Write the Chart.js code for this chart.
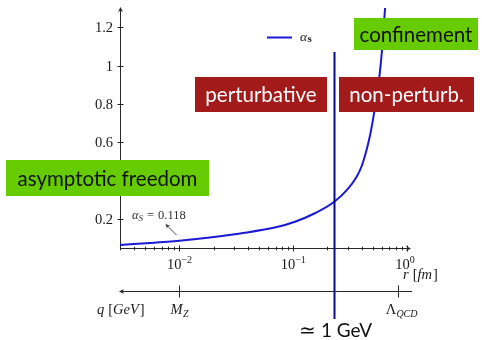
<!DOCTYPE html>
<html>
<head>
<meta charset="utf-8">
<script src="https://cdn.jsdelivr.net/npm/chart.js@4"></script>
<style>
  html, body { margin: 0; padding: 0; background: #fff; }
  canvas { display: block; }
</style>
</head>
<body>
<canvas id="c" width="482" height="340"></canvas>
<script>
// Running strong coupling versus distance r (fm)
const radiusFm = [0.003, 0.0055, 0.01, 0.0185, 0.0364, 0.0716, 0.1035, 0.155, 0.2296, 0.305, 0.361, 0.400, 0.441, 0.478, 0.516, 0.571, 0.603, 0.632, 0.643];
const alphaS   = [0.066, 0.076, 0.088, 0.105, 0.128, 0.159, 0.187, 0.231, 0.291, 0.361, 0.421, 0.477, 0.560, 0.649, 0.760, 0.939, 1.081, 1.246, 1.307];

// Axis ticks
const yTicks = [0.2, 0.4, 0.6, 0.8, 1, 1.2];
const yTickLabels = ['0.2', '0.4', '0.6', '0.8', '1', '1.2'];
const xDecades = [0.01, 0.1, 1];
const xDecadeExponents = ['\u22122', '\u22121', '0'];

// Reference scales
const oneGeVRadius = 0.229;
const mzRadius = 0.01;
const lambdaQcdRadius = 0.828;
const alphaSAtMz = '0.118';

const SERIF = '"Liberation Serif", "DejaVu Serif", serif';
const SANS = 'Lato, "Open Sans", sans-serif';
const AXIS = '#262626';
const RED = '#a31a1a';
const GREEN = '#66cc00';
const FS = '14.5px ';
const FSS = '10px ';

function richWidth(ctx, parts) {
  let w = 0;
  for (const p of parts) { ctx.font = p.font; w += ctx.measureText(p.t).width + (p.gap || 0); }
  return w;
}
function drawRich(ctx, parts, x, y, align) {
  const w = richWidth(ctx, parts);
  let cx = align === 'center' ? x - w / 2 : align === 'right' ? x - w : x;
  ctx.textBaseline = 'alphabetic';
  ctx.textAlign = 'left';
  for (const p of parts) {
    ctx.font = p.font;
    ctx.fillText(p.t, cx, y + (p.dy || 0));
    cx += ctx.measureText(p.t).width + (p.gap || 0);
  }
}
function arrowHead(ctx, x, y, ang, len, half) {
  ctx.save();
  ctx.translate(x, y);
  ctx.rotate(ang);
  ctx.beginPath();
  ctx.moveTo(0, 0);
  ctx.lineTo(-len, -half);
  ctx.lineTo(-len * 0.7, 0);
  ctx.lineTo(-len, half);
  ctx.closePath();
  ctx.fill();
  ctx.restore();
}
function labelBox(ctx, x, y, w, h, fill, text, color, size) {
  ctx.fillStyle = fill;
  ctx.fillRect(x, y, w, h);
  ctx.fillStyle = color;
  ctx.font = size + 'px ' + SANS;
  ctx.textAlign = 'center';
  ctx.textBaseline = 'middle';
  ctx.fillText(text, x + w / 2, y + h / 2 + 1);
}

const axesPlugin = {
  id: 'physicsAxes',
  beforeDatasetsDraw(chart) {
    const ctx = chart.ctx;
    const xs = chart.scales.x, ys = chart.scales.y;
    const a = chart.chartArea;
    const x0 = xs.getPixelForValue(xs.min);
    const y0 = ys.getPixelForValue(ys.min);
    ctx.save();
    ctx.strokeStyle = AXIS;
    ctx.fillStyle = AXIS;
    ctx.lineWidth = 1;

    // r axis
    ctx.beginPath();
    ctx.moveTo(x0, y0 + 0.5);
    ctx.lineTo(a.right + 3, y0 + 0.5);
    ctx.stroke();
    arrowHead(ctx, a.right + 4, y0 + 0.5, 0, 5, 2.5);
    // alpha axis
    ctx.beginPath();
    ctx.moveTo(x0 + 0.5, y0);
    ctx.lineTo(x0 + 0.5, a.top);
    ctx.stroke();
    arrowHead(ctx, x0 + 0.5, a.top - 1, -Math.PI / 2, 5, 2.5);

    // log ticks on r axis
    ctx.beginPath();
    for (let d = 0.001; d < 1.5; d *= 10) {
      for (let m = 1; m <= 9; m++) {
        const v = d * m;
        if (v < xs.min * 0.999 || v > xs.max * 1.001) continue;
        const px = Math.round(xs.getPixelForValue(v)) + 0.5;
        const major = m === 1;
        ctx.moveTo(px, y0 + 0.5 - (major ? 3 : 1.8));
        ctx.lineTo(px, y0 + 0.5 + (major ? 3 : 1.8));
      }
    }
    ctx.stroke();

    // alpha ticks
    ctx.beginPath();
    yTicks.forEach(v => {
      const py = Math.round(ys.getPixelForValue(v)) + 0.5;
      ctx.moveTo(x0 + 0.5 - 3, py);
      ctx.lineTo(x0 + 0.5 + 3, py);
    });
    ctx.stroke();

    ctx.fillStyle = '#1a1a1a';
    yTicks.forEach((v, i) => {
      const py = ys.getPixelForValue(v);
      drawRich(ctx, [{ t: yTickLabels[i], font: FS + SERIF }], x0 - 7, py + 5, 'right');
    });
    xDecades.forEach((v, i) => {
      const px = xs.getPixelForValue(v) - (i === xDecades.length - 1 ? 2 : 0);
      drawRich(ctx, [
        { t: '10', font: FS + SERIF },
        { t: xDecadeExponents[i], font: FSS + SERIF, dy: -6.5 }
      ], px, y0 + 21, 'center');
    });
    drawRich(ctx, [
      { t: 'r', font: 'italic ' + FS + SERIF, gap: 4 },
      { t: '[', font: FS + SERIF },
      { t: 'fm', font: 'italic ' + FS + SERIF, gap: 1 },
      { t: ']', font: FS + SERIF }
    ], xs.getPixelForValue(1) - 4, y0 + 31, 'left');

    // q axis (energy scale, increasing to the left)
    const qy = y0 + 43.5;
    ctx.beginPath();
    ctx.moveTo(a.right + 5, qy);
    ctx.lineTo(x0 + 2, qy);
    ctx.stroke();
    ctx.fillStyle = AXIS;
    arrowHead(ctx, x0 - 1, qy, Math.PI, 5, 2.5);
    ctx.beginPath();
    [mzRadius, lambdaQcdRadius].forEach(v => {
      const px = Math.round(xs.getPixelForValue(v)) + 0.5;
      ctx.moveTo(px, qy - 6);
      ctx.lineTo(px, qy + 6);
    });
    ctx.stroke();
    ctx.fillStyle = '#1a1a1a';
    drawRich(ctx, [
      { t: 'q', font: 'italic ' + FS + SERIF, gap: 4 },
      { t: '[', font: FS + SERIF },
      { t: 'GeV', font: 'italic ' + FS + SERIF, gap: 1 },
      { t: ']', font: FS + SERIF }
    ], x0 - 23, qy + 22, 'left');
    drawRich(ctx, [
      { t: 'M', font: 'italic ' + FS + SERIF, gap: 0.5 },
      { t: 'Z', font: 'italic ' + FSS + SERIF, dy: 3 }
    ], xs.getPixelForValue(mzRadius), qy + 22, 'center');
    drawRich(ctx, [
      { t: '\u039B', font: FS + SERIF },
      { t: 'QCD', font: 'italic ' + FSS + SERIF, dy: 3 }
    ], xs.getPixelForValue(lambdaQcdRadius) + 4, qy + 22, 'center');
    ctx.restore();
  },
  afterDatasetsDraw(chart) {
    const ctx = chart.ctx;
    const xs = chart.scales.x;
    const ds = chart.data.datasets[0];
    ctx.save();

    // value at the Z mass
    ctx.fillStyle = '#333';
    drawRich(ctx, [
      { t: '\u03B1', font: 'italic 12.5px ' + SERIF },
      { t: 'S', font: 'italic 9px ' + SERIF, dy: 2, gap: 4 },
      { t: '=', font: '12.5px ' + SERIF, gap: 4 },
      { t: alphaSAtMz, font: '12.5px ' + SERIF }
    ], 132, 218.5, 'left');
    ctx.strokeStyle = '#333';
    ctx.lineWidth = 0.9;
    ctx.beginPath();
    ctx.moveTo(176.5, 235);
    ctx.lineTo(167, 225.5);
    ctx.stroke();
    arrowHead(ctx, 165.5, 224, Math.atan2(-11, -11), 4.5, 2.2);

    // 1 GeV separation line
    const gx = Math.round(xs.getPixelForValue(oneGeVRadius)) + 0.5;
    ctx.strokeStyle = '#0b0b8c';
    ctx.lineWidth = 2;
    ctx.beginPath();
    ctx.moveTo(gx, 52);
    ctx.lineTo(gx, 319);
    ctx.stroke();
    ctx.fillStyle = '#111';
    drawRich(ctx, [
      { t: '\u2243', font: '20px ' + SANS, gap: 5 },
      { t: '1 GeV', font: '19px ' + SANS }
    ], gx + 1, 337, 'center');

    // legend
    ctx.strokeStyle = ds.borderColor;
    ctx.lineWidth = ds.borderWidth;
    ctx.beginPath();
    ctx.moveTo(267, 37.5);
    ctx.lineTo(292, 37.5);
    ctx.stroke();
    ctx.fillStyle = '#222';
    drawRich(ctx, [
      { t: '\u03B1', font: 'italic 13.5px ' + SERIF, gap: 0.5 },
      { t: 's', font: 'bold 11px ' + SERIF, dy: 1.5 }
    ], 300, 40.5, 'left');

    // region labels
    labelBox(ctx, 6, 160, 203, 36, GREEN, 'asymptotic freedom', '#111', 20.5);
    labelBox(ctx, 195, 77, 132, 35, RED, 'perturbative', '#fff', 20.5);
    labelBox(ctx, 339, 77, 135, 35, RED, 'non-perturb.', '#fff', 20.5);
    labelBox(ctx, 354, 18, 124, 32, GREEN, 'confinement', '#111', 20.5);
    ctx.restore();
  }
};

new Chart(document.getElementById('c'), {
  type: 'line',
  data: {
    datasets: [{
      label: '\u03B1s',
      data: radiusFm.map((r, i) => ({ x: r, y: alphaS[i] })),
      borderColor: '#1a1ad6',
      borderWidth: 2,
      pointRadius: 0,
      fill: false,
      cubicInterpolationMode: 'monotone'
    }]
  },
  options: {
    responsive: false,
    animation: false,
    devicePixelRatio: 1,
    layout: { padding: { left: 120, right: 75, top: 8, bottom: 92 } },
    plugins: { legend: { display: false }, tooltip: { enabled: false } },
    scales: {
      x: { type: 'logarithmic', min: 0.003, max: 1, display: false },
      y: { type: 'linear', min: 0.05, max: 1.3, display: false }
    }
  },
  plugins: [axesPlugin]
});
</script>
</body>
</html>
